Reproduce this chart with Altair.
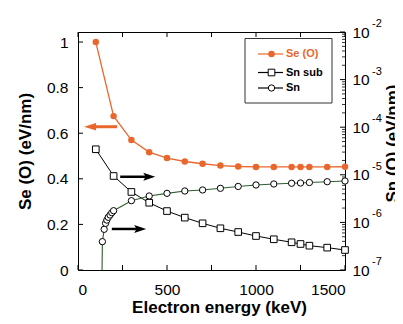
import altair as alt
import pandas as pd

# ---------------- data ----------------
energy = [100, 200, 300, 400, 500, 600, 700, 800, 900, 1000, 1100, 1200, 1250, 1300, 1400, 1500]
se_o = [1.0, 0.675, 0.57, 0.517, 0.491, 0.476, 0.466, 0.458, 0.454, 0.452, 0.452, 0.452, 0.452, 0.452, 0.452, 0.453]
sn_sub = [3.44e-5, 9.44e-6, 4.36e-6, 2.59e-6, 1.73e-6, 1.26e-6, 9.57e-7, 7.52e-7, 6.28e-7,
          5.18e-7, 4.42e-7, 3.82e-7, 3.52e-7, 3.24e-7, 2.95e-7, 2.63e-7]
sn_energy = [137, 147, 155, 162, 170, 180, 190, 200, 300, 400, 500, 600, 700, 800, 900, 1000,
             1100, 1200, 1250, 1300, 1400, 1500]
sn = [3.94e-7, 7.16e-7, 9.57e-7, 1.12e-6, 1.28e-6, 1.43e-6, 1.60e-6, 1.76e-6, 2.86e-6, 3.59e-6,
      4.08e-6, 4.57e-6, 4.80e-6, 5.20e-6, 5.69e-6, 6.11e-6, 6.41e-6, 6.64e-6, 6.73e-6, 6.89e-6,
      7.16e-6, 7.41e-6]
sn_threshold_energy = 135      # the Sn curve drops to the axis floor here
sn_floor = 1e-7

x_ticks = [0, 250, 500, 750, 1000, 1250, 1500]
left_ticks = [0, 0.2, 0.4, 0.6, 0.8, 1.0]
right_decades = [1e-7, 1e-6, 1e-5, 1e-4, 1e-3, 1e-2]
right_exponents = ["-7", "-6", "-5", "-4", "-3", "-2"]
right_minor = [m * d for d in [1e-7, 1e-6, 1e-5, 1e-4, 1e-3] for m in range(2, 10)]

# annotation arrows (energy, left-axis value)
left_arrow_y = [0.6285]
left_arrow_tip = [34]
left_arrow_tail = [220]
right_arrow_y = [0.409, 0.18]
right_arrow_tail = [237, 190]
right_arrow_tip = [434, 383]

legend_names = ["Se (O)", "Sn sub", "Sn"]

ORANGE = "#e9672d"
GREEN = "#2f5f2f"
FONT = "Liberation Sans"
W, H = 267, 238

xscale = alt.Scale(domain=[0, 1500], nice=False, zero=False)
lscale = alt.Scale(domain=[0, 1.044], nice=False, zero=False)
rscale = alt.Scale(type="log", domain=[1e-7, 1e-2], nice=False)

df_se = pd.DataFrame({"E": energy, "v": se_o})
df_sub = pd.DataFrame({"E": energy, "v": sn_sub})
df_sn = pd.DataFrame({"E": sn_energy, "v": sn})
df_sn_line = pd.DataFrame({"E": [sn_threshold_energy] + sn_energy, "v": [sn_floor] + sn})

xaxis = alt.Axis(values=x_ticks, format="d", title="Electron energy (keV)", ticks=False, tickSize=0,
                 domain=False, grid=False, labelPadding=12, labelFontSize=15.5,
                 titleFontSize=17, titleFontWeight="bold", titleX=141, titleY=42,
                 titleBaseline="alphabetic", titleAlign="center")
laxis = alt.Axis(values=left_ticks, format="~g", title="Se (O) (eV/nm)", ticks=False, tickSize=0,
                 domain=False, grid=False, labelPadding=10, labelFontSize=15.5,
                 titleFontSize=17, titleFontWeight="bold", titleAngle=270, titleX=-52.5,
                 titleY=H / 2, titleBaseline="middle", titleAlign="center")
raxis = alt.Axis(values=right_decades, labelExpr="'10'", orient="right", title="Sn (O) (eV/nm)",
                 ticks=False, tickSize=0, domain=False, grid=False, labelPadding=7,
                 labelFontSize=15.5, titleFontSize=17, titleFontWeight="bold", titleAngle=270,
                 titleX=47, titleY=111, titleBaseline="middle", titleAlign="center")


def X(field):
    return alt.X(field, scale=xscale, axis=xaxis)


def YL(field):
    return alt.Y(field, scale=lscale, axis=laxis)


def YR(field):
    return alt.Y(field, scale=rscale, axis=raxis)


# ---------------- left (linear) layer ----------------
se_line = alt.Chart(df_se).mark_line(color=ORANGE, strokeWidth=1.3).encode(x=X("E:Q"), y=YL("v:Q"))
se_pts = alt.Chart(df_se).mark_point(shape="circle", filled=True, color=ORANGE, size=42, opacity=1).encode(
    x=X("E:Q"), y=YL("v:Q"))

df_xt = pd.DataFrame({"t": x_ticks})
bottom_t = alt.Chart(df_xt).mark_rule(color="black", strokeWidth=1).encode(
    x=X("t:Q"), y=alt.value(H), y2=alt.value(H - 5))
top_t = alt.Chart(df_xt).mark_rule(color="black", strokeWidth=1).encode(
    x=X("t:Q"), y=alt.value(0), y2=alt.value(5))
left_t = alt.Chart(pd.DataFrame({"t": left_ticks})).mark_rule(color="black", strokeWidth=1).encode(
    y=YL("t:Q"), x=alt.value(0), x2=alt.value(5))

df_la = pd.DataFrame({"y": left_arrow_y, "tip": left_arrow_tip, "tail": left_arrow_tail})
la_shaft = alt.Chart(df_la).mark_rule(color=ORANGE, strokeWidth=3, xOffset=8).encode(
    x=X("tip:Q"), x2="tail:Q", y=YL("y:Q"))
la_head = alt.Chart(df_la).mark_point(shape="M0,0 L1,-0.32 L1,0.32 Z", filled=True, color=ORANGE,
                                      size=576, opacity=1, strokeWidth=0).encode(
    x=X("tip:Q"), y=YL("y:Q"))

df_ra = pd.DataFrame({"y": right_arrow_y, "tip": right_arrow_tip, "tail": right_arrow_tail})
ra_shaft = alt.Chart(df_ra).mark_rule(color="black", strokeWidth=2.5, x2Offset=-8).encode(
    x=X("tail:Q"), x2="tip:Q", y=YL("y:Q"))
ra_head = alt.Chart(df_ra).mark_point(shape="M0,0 L-1,-0.33 L-0.8,0 L-1,0.33 Z", filled=True,
                                      color="black", size=576, opacity=1, strokeWidth=0).encode(
    x=X("tip:Q"), y=YL("y:Q"))

left = alt.layer(se_line, left_t, bottom_t, top_t, la_shaft, la_head, ra_shaft, ra_head, se_pts)

# ---------------- right (log) layer ----------------
sub_line = alt.Chart(df_sub).mark_line(color="black", strokeWidth=1).encode(x=X("E:Q"), y=YR("v:Q"))
sub_pts = alt.Chart(df_sub).mark_point(shape="square", filled=True, fill="white", stroke="black",
                                       strokeWidth=1, size=44, opacity=1).encode(x=X("E:Q"), y=YR("v:Q"))
sn_line = alt.Chart(df_sn_line).mark_line(color=GREEN, strokeWidth=1.1).encode(x=X("E:Q"), y=YR("v:Q"))
sn_pts = alt.Chart(df_sn).mark_point(shape="circle", filled=True, fill="white", stroke="black",
                                     strokeWidth=1, size=40, opacity=1).encode(x=X("E:Q"), y=YR("v:Q"))

right_major = alt.Chart(pd.DataFrame({"t": right_decades})).mark_rule(color="black", strokeWidth=1).encode(
    y=YR("t:Q"), x=alt.value(W - 5), x2=alt.value(W))
right_min = alt.Chart(pd.DataFrame({"t": right_minor})).mark_rule(color="black", strokeWidth=0.8).encode(
    y=YR("t:Q"), x=alt.value(W - 3), x2=alt.value(W))
exps = alt.Chart(pd.DataFrame({"t": right_decades, "e": right_exponents})).mark_text(
    font=FONT, fontSize=11, align="left", baseline="middle", dy=-8, color="black").encode(
    y=YR("t:Q"), x=alt.value(W + 27), text="e:N")

right = alt.layer(sub_line, sn_line, right_major, right_min, sub_pts, sn_pts, exps)

# ---------------- legend (drawn by hand) ----------------
one = pd.DataFrame({"a": [0]})
legend_layers = [
    alt.Chart(one).mark_rect(fill="white", stroke="#333333", strokeWidth=1).encode(
        x=alt.value(167), x2=alt.value(254), y=alt.value(6.5), y2=alt.value(71))
]
row_y = [22, 40.5, 56]
sym_styles = [
    dict(filled=True, color=ORANGE, size=42, opacity=1),
    dict(shape="square", filled=True, fill="white", stroke="black", strokeWidth=1, size=44, opacity=1),
    dict(shape="circle", filled=True, fill="white", stroke="black", strokeWidth=1, size=40, opacity=1),
]
line_cols = [ORANGE, "black", "black"]
text_cols = [ORANGE, "black", "black"]
for name, yy, st, lc, tc in zip(legend_names, row_y, sym_styles, line_cols, text_cols):
    legend_layers.append(alt.Chart(one).mark_rule(color=lc, strokeWidth=1.2).encode(
        x=alt.value(180), x2=alt.value(205), y=alt.value(yy)))
    legend_layers.append(alt.Chart(one).mark_point(**st).encode(x=alt.value(193.5), y=alt.value(yy)))
    legend_layers.append(alt.Chart(one).mark_text(
        text=name, font=FONT, fontSize=11, fontWeight="bold", color=tc, align="left",
        baseline="middle").encode(x=alt.value(208), y=alt.value(yy)))
legend = alt.layer(*legend_layers)

chart = alt.layer(left, right, legend).resolve_scale(y="independent").properties(
    width=W, height=H,
    autosize=alt.AutoSizeParams(type="none"),
    padding={"left": 70, "top": 24, "right": 50, "bottom": 46},
    background="white",
).configure_view(stroke="black", strokeWidth=1).configure_axis(
    labelFont=FONT, titleFont=FONT, labelColor="black", titleColor="black"
)

chart.save("out.html", embed_options={"renderer": "svg", "actions": False})
